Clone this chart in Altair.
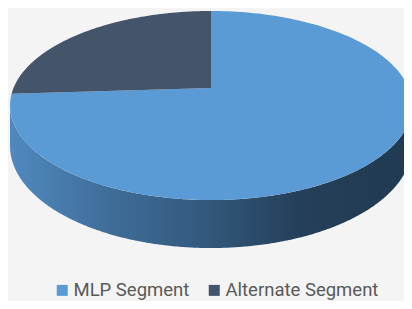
import altair as alt
import pandas as pd

# ---- data ----
categories = ["MLP Segment", "Alternate Segment"]
values = [74, 26]
colors = ["#5b9bd5", "#44546a"]

# ---- geometry of the tilted pie (plot-pixel units) ----
CX, CY = 203, 80        # projected pie centre
RX, A = 197.5, 91.3     # horizontal radius, vertical scale
B = 0.1852              # perspective strength
D = 39.1                # rim depth
N = 180                 # samples per slice

W, H = 396, 293

total = sum(values)
rows = []
start = 0.0
for cat, v in zip(categories, values):
    share = v / total
    for k in range(-1, N + 1):
        rows.append({"cat": cat, "f0": start, "f1": start + share, "k": k})
    start += share
slices = pd.DataFrame(rows)

xs = alt.Scale(domain=[0, W], nice=False, zero=False)
ys = alt.Scale(domain=[H, 0], nice=False, zero=False)

# rim (side) of the pie
side = (
    alt.Chart(alt.sequence(0, 721, 1, as_="s"))
    .transform_calculate(phi="2*PI*datum.s/720")
    .transform_calculate(T="-cos(datum.phi)", X="sin(datum.phi)")
    .transform_filter(f"datum.T >= {B}")
    .transform_calculate(den=f"1 - {B}*datum.T")
    .transform_calculate(
        px=f"{CX} + {RX}*datum.X/datum.den",
        py=f"{CY} + {A}*datum.T/datum.den",
        py2=f"{CY} + {A}*datum.T/datum.den + {D}/datum.den",
    )
    .mark_area(
        clip=False,
        color=alt.Gradient(
            gradient="linear",
            x1=0, x2=1, y1=0, y2=0,
            stops=[
                alt.GradientStop(color="#5089bf", offset=0),
                alt.GradientStop(color="#3f6d99", offset=0.25),
                alt.GradientStop(color="#32577b", offset=0.5),
                alt.GradientStop(color="#243f59", offset=0.72),
                alt.GradientStop(color="#213a52", offset=1),
            ],
        ),
    )
    .encode(
        x=alt.X("px:Q", scale=xs, axis=None),
        y=alt.Y("py:Q", scale=ys, axis=None),
        y2="py2:Q",
    )
)

# top face slices
top = (
    alt.Chart(slices)
    .transform_calculate(phi=f"2*PI*(datum.f0 + (datum.f1 - datum.f0)*max(datum.k,0)/{N})")
    .transform_calculate(T="-cos(datum.phi)", X="sin(datum.phi)")
    .transform_calculate(den=f"1 - {B}*datum.T")
    .transform_calculate(
        px=f"datum.k < 0 ? {CX} : {CX} + {RX}*datum.X/datum.den",
        py=f"datum.k < 0 ? {CY} : {CY} + {A}*datum.T/datum.den",
    )
    .mark_line(strokeWidth=0, strokeOpacity=0, clip=False)
    .encode(
        x=alt.X("px:Q", scale=xs, axis=None),
        y=alt.Y("py:Q", scale=ys, axis=None),
        order="k:Q",
        detail="cat:N",
        fill=alt.Fill(
            "cat:N",
            scale=alt.Scale(domain=categories, range=colors),
            sort=categories,
            legend=alt.Legend(
                title=None,
                orient="none",
                direction="horizontal",
                legendX=45,
                legendY=273,
                padding=0,
                symbolType="square",
                symbolSize=121,
                symbolStrokeWidth=0,
                labelFont="Roboto",
                labelFontSize=18.5,
                labelColor="#595959",
                labelOffset=2,
                columnPadding=15,
            ),
        ),
    )
)

chart = (
    alt.layer(side, top)
    .properties(width=W, height=H, padding=0, background="#f4f4f4",
                autosize=alt.AutoSizeParams(type="none"))
    .configure_view(stroke=None)
)

chart.save("out.html", embed_options={"renderer": "svg", "actions": False})
